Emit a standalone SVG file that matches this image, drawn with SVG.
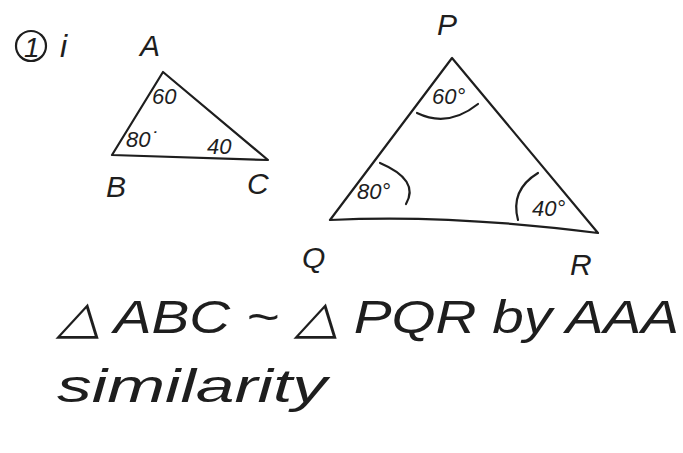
<svg xmlns="http://www.w3.org/2000/svg" width="683" height="453" viewBox="0 0 683 453">
<style>
.ln{fill:none;stroke:#1e1e1e;stroke-width:2.2;stroke-linecap:round;stroke-linejoin:round}
.t{font-family:"Liberation Sans",Arial,sans-serif;font-style:italic;fill:#1e1e1e}
.v{font-size:30px}
.a{font-size:22px}
.b{font-size:46px}
</style>
<rect width="683" height="453" fill="#ffffff"/>
<g id="label-1i">
<circle class="ln" cx="31" cy="46" r="15"/>
<text class="t" x="24" y="57" font-size="28">1</text>
<text class="t" x="60" y="57" font-size="32">i</text>
</g>
<g id="triangle-ABC">
<path class="ln" d="M163,72 L112,155 L268,160 Z"/>
<text class="t v" x="140" y="56">A</text>
<text class="t v" x="106" y="197">B</text>
<text class="t v" x="247" y="194">C</text>
<text class="t a" x="152" y="104">60</text>
<text class="t a" x="126" y="147">80˙</text>
<text class="t a" x="207" y="154">40</text>
</g>
<g id="triangle-PQR">
<path class="ln" d="M452,58 L330,220 Q450,214 598,233 Z"/>
<path class="ln" d="M417,113 Q448,128 478,104"/>
<path class="ln" d="M380,163 Q420,180 406,204"/>
<path class="ln" d="M538,173 Q510,190 518,220"/>
<text class="t v" x="437" y="35">P</text>
<text class="t v" x="302" y="268">Q</text>
<text class="t v" x="570" y="275">R</text>
<text class="t a" x="432" y="104">60°</text>
<text class="t a" x="357" y="199">80°</text>
<text class="t a" x="532" y="216">40°</text>
</g>
<g id="statement">
<text class="t b" x="57" y="333" textLength="622" lengthAdjust="spacingAndGlyphs">△ ABC ~ △ PQR by AAA</text>
<text class="t b" x="57" y="402" textLength="270" lengthAdjust="spacingAndGlyphs">similarity</text>
</g>
</svg>
